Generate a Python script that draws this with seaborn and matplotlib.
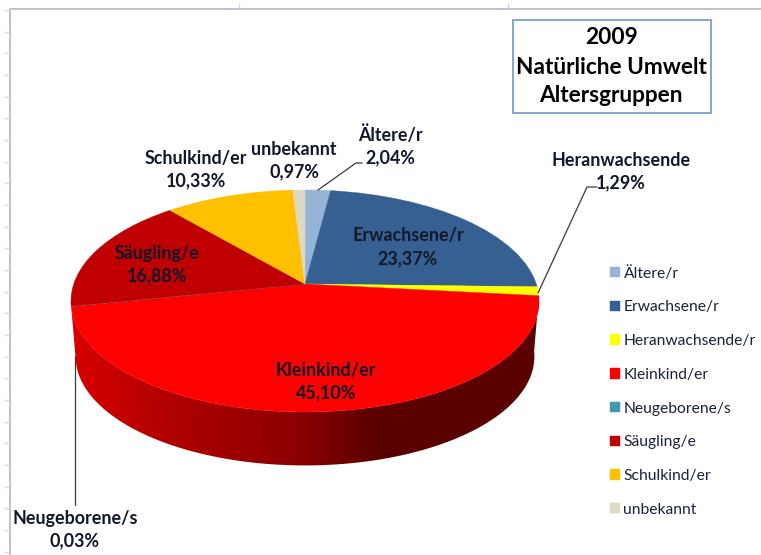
import numpy as np
import matplotlib
matplotlib.use("Agg")
import matplotlib.pyplot as plt
from matplotlib.path import Path
from matplotlib.patches import PathPatch, Rectangle
from matplotlib.transforms import Transform
import seaborn as sns

categories = ["Ältere/r", "Erwachsene/r", "Heranwachsende/r", "Kleinkind/er",
              "Neugeborene/s", "Säugling/e", "Schulkind/er", "unbekannt"]
values = [2.04, 23.37, 1.29, 45.10, 0.03, 16.88, 10.33, 0.97]
colors = ["#95b3d7", "#376092", "#ffff00", "#ff0000",
          "#4198af", "#c00000", "#ffc000", "#ddd9c3"]
label_names = ["Ältere/r", "Erwachsene/r", "Heranwachsende", "Kleinkind/er",
               "Neugeborene/s", "Säugling/e", "Schulkind/er", "unbekannt"]
label_xy = [(390, 146), (408, 247), (621, 171.5), (326, 381.5),
            (75, 529.5), (157, 264.5), (196, 169.5), (294, 160.5)]
title_lines = ["2009", "Natürliche Umwelt", "Altersgruppen"]

FONT = ["Lato", "DejaVu Sans"]
sns.set_theme(style="white")
plt.rcParams["font.family"] = FONT

CX, CY, BX, AY, K = 305.0, 284.0, 231.3, 108.4, 0.153


def project(u, v, scale=1.0, dy=0.0):
    w = 1 + K * v
    return CX + scale * BX * u / w, CY + dy - scale * AY * v / w


class Perspective(Transform):
    input_dims = output_dims = 2
    has_inverse = False

    def transform_non_affine(self, values):
        xy = np.asarray(values, dtype=float)
        x, y = project(xy[:, 0], xy[:, 1])
        return np.column_stack([x, y])


fig = plt.figure(figsize=(7.61, 5.55), dpi=100, facecolor="white")
ax = fig.add_axes([0, 0, 1, 1])

palette = sns.color_palette(colors)
wedges, _ = ax.pie(values, colors=palette, startangle=90, counterclock=False,
                   wedgeprops=dict(linewidth=0.3, zorder=3))
persp = Perspective()
for w, c in zip(wedges, palette):
    w.set_transform(persp + ax.transData)
    w.set_edgecolor(c)

ax.set_aspect("auto")
ax.set_axis_on()
ax.set_frame_on(False)

# side wall of the largest slice
shares = np.cumsum(values) / np.sum(values)
ang0, ang1 = 360 * shares[2], 360 * shares[3]
t = np.radians(np.linspace(ang0, ang1, 200))
xt, yt = project(np.sin(t), np.cos(t))
xb, yb = project(np.sin(t), np.cos(t), scale=0.98, dy=56)
poly = np.column_stack([np.r_[xt, xb[::-1]], np.r_[yt, yb[::-1]]])
side = PathPatch(Path(np.vstack([poly, poly[:1]]), closed=True),
                 facecolor="none", edgecolor="none", transform=ax.transData)
ax.add_patch(side)
grad_cmap = sns.blend_palette(["#d80000", "#b80000", "#a00000", "#8a0000", "#5a0000"], as_cmap=True)
xs = np.linspace(60, 550, 490)
img = ax.imshow(np.clip((xs - 71) / (378 - 71), 0, 1)[None, :], extent=(60, 550, 480, 280),
                cmap=grad_cmap, vmin=0, vmax=1, aspect="auto", zorder=2, interpolation="bilinear")
img.set_clip_path(side)

ax.set_xlim(0, 761)
ax.set_ylim(555, 0)
ax.set_xticks([])
ax.set_yticks([])

# worksheet frame behind the chart
ax.plot([10, 10, 761], [555, 9, 9], color="#b4b8bf", lw=1.2, zorder=1)
ax.plot([10, 761], [554.5, 554.5], color="#eeeeee", lw=1, zorder=1)
ax.hlines(np.arange(10, 555, 21.67), 4, 9, color="#d5dbe6", lw=1, zorder=1)
ax.vlines([239, 508], 3, 8, color="#d5dbe6", lw=1, zorder=1)

# leader lines
LEADER = "#3a3a3a"
ax.plot([318, 356, 362], [190, 163, 163], color=LEADER, lw=0.9, zorder=4)
ax.plot([538, 587, 597], [293, 187, 187], color=LEADER, lw=0.9, zorder=4)
ax.plot([74.5, 74.5], [356, 505], color=LEADER, lw=0.9, zorder=4)

# data labels
for name, val, (x, y) in zip(label_names, values, label_xy):
    txt = f"{name}\n{val:.2f}%".replace(".", ",")
    ax.text(x, y, txt, ha="center", va="center", fontsize=12.9, fontweight="bold",
            color="#10182a", linespacing=1.4, zorder=6)

# title box
ax.add_patch(Rectangle((513, 20), 198, 93, facecolor="white", edgecolor="#6c97cc", lw=1.2, zorder=5))
for line, y in zip(title_lines, [37, 67, 96]):
    ax.text(611, y, line, ha="center", va="center", fontsize=16.3, fontweight="bold",
            color="black", zorder=6)

# legend
ax.legend(wedges, categories, loc="upper left", bbox_to_anchor=(0.8016, 0.521), frameon=False,
          fontsize=11.27, labelspacing=1.26, handlelength=0.64, handleheight=0.64, handletextpad=0.22,
          labelcolor="#1a2238", borderpad=0, borderaxespad=0)

fig.savefig("out.png", dpi=100)
